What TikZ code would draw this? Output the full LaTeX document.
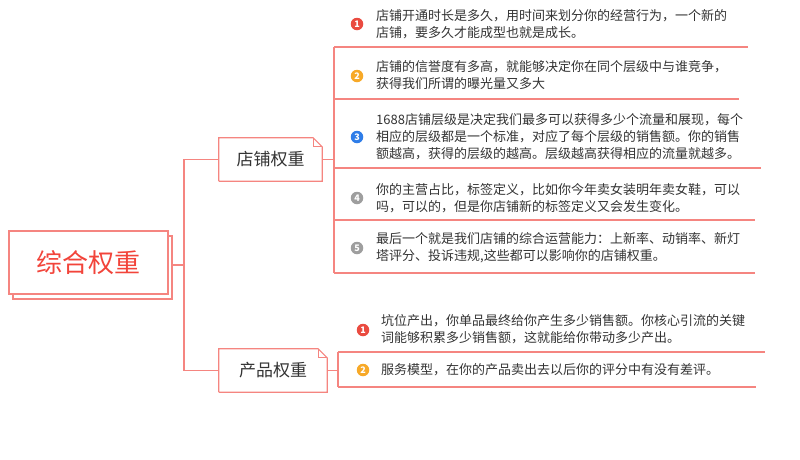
\documentclass[tikz,border=0pt]{standalone}
\usepackage{fontspec}
\setmainfont{Noto Sans CJK SC}
\usetikzlibrary{shadows}
\definecolor{linered}{HTML}{F58580}
\definecolor{rootred}{HTML}{F2443A}
\definecolor{txtgray}{HTML}{333333}
\definecolor{numred}{HTML}{EA4B40}
\definecolor{numorange}{HTML}{F7A928}
\definecolor{numblue}{HTML}{2F7DE8}
\definecolor{numgray}{HTML}{9E9E9E}
\begin{document}
\begin{tikzpicture}[x=1pt, y=-1pt,
    branch/.style={draw=linered, line width=1.2pt},
    rootbox/.style={draw=linered, line width=1.2pt, fill=white, minimum width=159pt, minimum height=63pt,
        text=rootred, font=\fontsize{26}{30}\selectfont,
        copy shadow={shadow xshift=4pt, shadow yshift=-5pt}},
    topic/.style={minimum height=43pt, inner sep=0pt, text=txtgray, font=\fontsize{17}{20}\selectfont},
    leaf/.style={anchor=west, align=left, inner sep=0pt, text=txtgray, font=\fontsize{13}{17}\selectfont},
    num/.style={circle, fill=#1, text=white, minimum size=12.5pt, inner sep=0pt, font=\fontsize{9}{9}\selectfont\bfseries},
]
    \useasboundingbox (0,0) rectangle (800,459);

    \node[rootbox] (root) at (88.5,262.5) {综合权重};

    \node[topic, minimum width=103pt] (store) at (270.5,159.5) {店铺权重};
    \node[topic, minimum width=108pt] (product) at (273,370.5) {产品权重};
    \foreach \t in {store, product} {
        \draw[branch] (\t.south west) |- ([xshift=-9pt]\t.north east) -- ([yshift=-9pt]\t.north east) |- (\t.south west);
        \draw[draw=linered, line width=0.8pt] ([xshift=-9pt]\t.north east) -- ([xshift=-9pt, yshift=-9pt]\t.north east) -- ([yshift=-9pt]\t.north east);
    }

    \coordinate (hub) at (184,265);
    \draw[branch] ([xshift=4pt, yshift=-2.5pt]root.east) -- (hub);
    \draw[branch] (hub) |- (store.west);
    \draw[branch] (hub) |- (product.west);

    % store leaves
    \node[num=numred] (n1) at (357,24) {1};
    \node[leaf] (s1) at (376,24) {店铺开通时长是多久，用时间来划分你的经营行为，一个新的\\店铺，要多久才能成型也就是成长。};
    \node[num=numorange] (n2) at (357,76) {2};
    \node[leaf] (s2) at (376,75) {店铺的信誉度有多高，就能够决定你在同个层级中与谁竞争，\\获得我们所谓的曝光量又多大};
    \node[num=numblue] (n3) at (357,137) {3};
    \node[leaf] (s3) at (376,137) {1688店铺层级是决定我们最多可以获得多少个流量和展现，每个\\相应的层级都是一个标准，对应了每个层级的销售额。你的销售\\额越高，获得的层级的越高。层级越高获得相应的流量就越多。};
    \node[num=numgray] (n4) at (357,198) {4};
    \node[leaf] (s4) at (376,198) {你的主营占比，标签定义，比如你今年卖女装明年卖女鞋，可以\\吗，可以的，但是你店铺新的标签定义又会发生变化。};
    \node[num=numgray] (n5) at (357,248) {5};
    \node[leaf] (s5) at (376,248) {最后一个就是我们店铺的综合运营能力：上新率、动销率、新灯\\塔评分、投诉违规,这些都可以影响你的店铺权重。};

    \foreach \i/\y/\r in {1/47/748, 2/99/739, 3/168/761, 4/220/755, 5/273/755} {
        \coordinate (sl\i) at (334,\y);
        \coordinate (sr\i) at (\r,\y);
        \draw[branch] (sl\i) -- (sr\i);
    }
    \draw[branch] (sl1) -- (sl5);
    \draw[branch] (store.east) -- (store.east -| sl1);

    % product leaves
    \node[num=numred] (m1) at (363,330) {1};
    \node[leaf] (p1) at (381,329) {坑位产出，你单品最终给你产生多少销售额。你核心引流的关键\\词能够积累多少销售额，这就能给你带动多少产出。};
    \node[num=numorange] (m2) at (363,370) {2};
    \node[leaf] (p2) at (381,370) {服务模型，在你的产品卖出去以后你的评分中有没有差评。};

    \foreach \i/\y/\r in {1/352/765, 2/387/756} {
        \coordinate (pl\i) at (338,\y);
        \coordinate (pr\i) at (\r,\y);
        \draw[branch] (pl\i) -- (pr\i);
    }
    \draw[branch] (pl1) -- (pl2);
    \draw[branch] (product.east) -- (product.east -| pl1);
\end{tikzpicture}
\end{document}
